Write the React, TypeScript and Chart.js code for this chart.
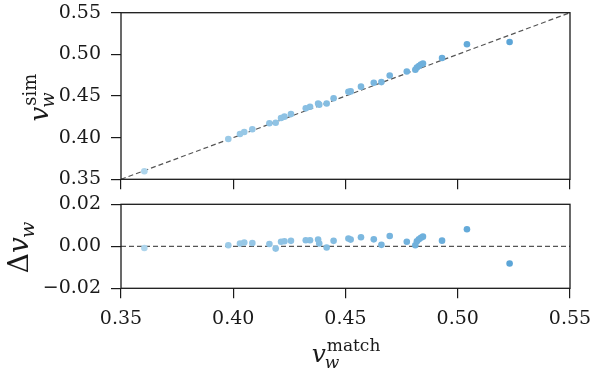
import React, { useEffect, useRef } from "react";
import { Chart, registerables } from "chart.js";
Chart.register(...registerables);

// ---- data ----
const vMatch = [
  0.3604, 0.3978, 0.403, 0.4049, 0.4085, 0.4161, 0.4189, 0.4213, 0.4228, 0.4257,
  0.4323, 0.4342, 0.4378, 0.4383, 0.4416, 0.4447, 0.4513, 0.4523, 0.4569, 0.4626,
  0.466, 0.4697, 0.4773, 0.4811, 0.4818, 0.4827, 0.4836, 0.4845, 0.493, 0.5041, 0.5231,
];
const deltaV = [
  -0.0008, 0.0005, 0.0013, 0.0018, 0.0016, 0.0011, -0.0011, 0.0022, 0.0024, 0.0026,
  0.0029, 0.0029, 0.0032, 0.0013, -0.0006, 0.0026, 0.0037, 0.0032, 0.0043, 0.0033,
  0.0007, 0.0049, 0.0022, 0.0005, 0.0024, 0.0033, 0.0041, 0.0046, 0.0027, 0.0081, -0.0082,
];
const vSim = vMatch.map((v, i) => v + deltaV[i]);
const xTicks = [0.35, 0.4, 0.45, 0.5, 0.55];
const topYTicks = [0.35, 0.4, 0.45, 0.5, 0.55];
const bottomYTicks = [-0.02, 0, 0.02];
const identityLine = [0.35, 0.55];
const zeroLine = [0, 0];

const FONT = '"DejaVu Serif", serif';
const INK = "#1a1a1a";

const fmt = (v: number) => (v < 0 ? "\u2212" : "") + Math.abs(v).toFixed(2);

function colorFor(v: number) {
  const t = Math.max(0, Math.min(1, (v - 0.36) / (0.52 - 0.36)));
  const a = [174, 213, 236];
  const b = [92, 165, 215];
  const c = a.map((x, i) => Math.round(x + (b[i] - x) * t));
  return `rgb(${c[0]},${c[1]},${c[2]})`;
}

const framePlugin = {
  id: "frame",
  afterDatasetsDraw(chart: any) {
    const { ctx, chartArea } = chart;
    const { left, top, right, bottom } = chartArea;
    ctx.save();
    ctx.strokeStyle = INK;
    ctx.lineWidth = 1.3;
    ctx.strokeRect(left, top, right - left, bottom - top);
    ctx.restore();
  },
};

type LabelSpec = {
  cx: number;
  cy: number;
  base: number;
  rotate: boolean;
  size: number;
  ssize: number;
  prefix?: string;
  sub: string;
  sup?: string;
};

function drawMathLabel(ctx: CanvasRenderingContext2D, s: LabelSpec) {
  const size = s.size;
  const ssize = s.ssize;
  ctx.save();
  ctx.translate(s.cx, s.cy);
  if (s.rotate) ctx.rotate(-Math.PI / 2);
  ctx.fillStyle = INK;
  ctx.textBaseline = "alphabetic";
  ctx.textAlign = "left";
  const mainR = `${size}px ${FONT}`;
  const mainI = `italic ${size}px ${FONT}`;
  const scrR = `${ssize}px ${FONT}`;
  const scrI = `italic ${ssize}px ${FONT}`;
  ctx.font = mainR;
  const pw = s.prefix ? ctx.measureText(s.prefix).width : 0;
  ctx.font = mainI;
  const vw = ctx.measureText("v").width;
  ctx.font = scrI;
  const subw = ctx.measureText(s.sub).width;
  ctx.font = scrR;
  const supw = s.sup ? ctx.measureText(s.sup).width : 0;
  const total = pw + vw + Math.max(subw, supw);
  let x = -total / 2;
  const b = s.base;
  if (s.prefix) {
    ctx.font = mainR;
    ctx.fillText(s.prefix, x, b);
    x += pw;
  }
  ctx.font = mainI;
  ctx.fillText("v", x, b);
  x += vw;
  ctx.font = scrI;
  ctx.fillText(s.sub, x - 1, b + size * 0.22);
  if (s.sup) {
    ctx.font = scrR;
    ctx.fillText(s.sup, x + 1, b - size * 0.45);
  }
  ctx.restore();
}

function labelPlugin(specs: LabelSpec[]) {
  return {
    id: "mathLabels",
    afterDraw(chart: any) {
      specs.forEach((s) => drawMathLabel(chart.ctx, s));
    },
  };
}

function makeOptions(opts: {
  canvasH: number;
  areaTop: number;
  areaBottom: number;
  yMin: number;
  yMax: number;
  yTicks: number[];
  showX: boolean;
}) {
  const grid = {
    drawOnChartArea: false,
    drawTicks: true,
    tickLength: 10,
    color: INK,
    lineWidth: 1.2,
  };
  return {
    responsive: false,
    animation: false as const,
    layout: { padding: { top: opts.areaTop, right: 28, left: 0, bottom: 0 } },
    plugins: { legend: { display: false }, tooltip: { enabled: false } },
    scales: {
      x: {
        type: "linear" as const,
        min: 0.35,
        max: 0.55,
        border: { display: false },
        grid,
        afterBuildTicks: (s: any) => {
          s.ticks = xTicks.map((v) => ({ value: v }));
        },
        afterFit: (s: any) => {
          s.height = opts.canvasH - opts.areaBottom;
          s.paddingLeft = 0;
          s.paddingRight = 0;
        },
        ticks: {
          display: opts.showX,
          padding: 11,
          color: INK,
          font: { family: FONT, size: 19, lineHeight: 1 },
          maxRotation: 0,
          callback: (v: any) => fmt(Number(v)),
        },
      },
      y: {
        type: "linear" as const,
        min: opts.yMin,
        max: opts.yMax,
        border: { display: false },
        grid,
        afterBuildTicks: (s: any) => {
          s.ticks = opts.yTicks.map((v) => ({ value: v }));
        },
        afterFit: (s: any) => {
          s.width = 121;
          s.paddingTop = 0;
          s.paddingBottom = 0;
        },
        ticks: {
          padding: 10,
          color: INK,
          font: { family: FONT, size: 19, lineHeight: 1 },
          callback: (v: any) => fmt(Number(v)),
        },
      },
    },
  };
}

export default function App() {
  const topRef = useRef<HTMLCanvasElement>(null);
  const botRef = useRef<HTMLCanvasElement>(null);

  useEffect(() => {
    const colors = vMatch.map(colorFor);
    const top = new Chart(topRef.current!, {
      type: "scatter",
      data: {
        datasets: [
          {
            data: vMatch.map((x, i) => ({ x, y: vSim[i] })),
            backgroundColor: colors,
            borderWidth: 0,
            pointRadius: 3.3,
            order: 1,
          },
          {
            data: identityLine.map((v) => ({ x: v, y: v })),
            showLine: true,
            borderColor: "#555555",
            borderWidth: 1.2,
            borderDash: [5, 3],
            pointRadius: 0,
            order: 2,
          },
        ],
      },
      options: makeOptions({
        canvasH: 190,
        areaTop: 12.7,
        areaBottom: 179.3,
        yMin: 0.35,
        yMax: 0.55,
        yTicks: topYTicks,
        showX: false,
      }) as any,
      plugins: [
        framePlugin,
        labelPlugin([
          { cx: 0, cy: 98, base: 48, rotate: true, size: 26, ssize: 18, sub: "w", sup: "sim" },
        ]),
      ],
    });

    const bot = new Chart(botRef.current!, {
      type: "scatter",
      data: {
        datasets: [
          {
            data: vMatch.map((x, i) => ({ x, y: deltaV[i] })),
            backgroundColor: colors,
            borderWidth: 0,
            pointRadius: 3.3,
            order: 1,
          },
          {
            data: identityLine.map((v, i) => ({ x: v, y: zeroLine[i] })),
            showLine: true,
            borderColor: "#555555",
            borderWidth: 1.2,
            borderDash: [5, 3],
            pointRadius: 0,
            order: 2,
          },
        ],
      },
      options: makeOptions({
        canvasH: 181,
        areaTop: 14.3,
        areaBottom: 98.3,
        yMin: -0.02,
        yMax: 0.02,
        yTicks: bottomYTicks,
        showX: true,
      }) as any,
      plugins: [
        framePlugin,
        labelPlugin([
          { cx: 0, cy: 57, base: 28, rotate: true, size: 28, ssize: 19, prefix: "\u0394", sub: "w" },
          { cx: 345.5, cy: 0, base: 172, rotate: false, size: 25, ssize: 17, sub: "w", sup: "match" },
        ]),
      ],
    });

    return () => {
      top.destroy();
      bot.destroy();
    };
  }, []);

  return (
    <div
      style={{
        position: "absolute",
        left: 0,
        top: 0,
        width: 598,
        height: 371,
        background: "#ffffff",
        overflow: "hidden",
      }}
    >
      <canvas ref={topRef} width={598} height={190} style={{ position: "absolute", left: 0, top: 0 }} />
      <canvas ref={botRef} width={598} height={181} style={{ position: "absolute", left: 0, top: 190 }} />
    </div>
  );
}
